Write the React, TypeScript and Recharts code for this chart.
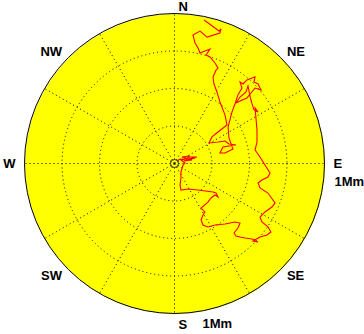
import { ScatterChart, Scatter, XAxis, YAxis, ReferenceDot, ReferenceLine } from 'recharts';

// track of the object, east / north offset from the site, in Mm
const eastMm = [
    0.197, 0.297, 0.31, 0.303, 0.217, 0.17, 0.123, 0.137, 0.157, 0.17,
    0.203, 0.237, 0.21, 0.237, 0.27, 0.29, 0.277, 0.257, 0.263, 0.283,
    0.303, 0.337, 0.35, 0.29, 0.25, 0.23, 0.29, 0.337, 0.363, 0.41,
    0.323, 0.303, 0.337, 0.39, 0.363, 0.357, 0.383, 0.403, 0.423, 0.45,
    0.437, 0.457, 0.483, 0.517, 0.537, 0.53, 0.557, 0.577, 0.537, 0.51,
    0.483, 0.437, 0.41, 0.437, 0.477, 0.49, 0.503, 0.517, 0.53, 0.557,
    0.537, 0.543, 0.55, 0.55, 0.537, 0.57, 0.603, 0.637, 0.623, 0.583,
    0.557, 0.57, 0.623, 0.67, 0.65, 0.603, 0.57, 0.583, 0.623, 0.643,
    0.617, 0.57, 0.523, 0.557, 0.517, 0.47, 0.437, 0.41, 0.397, 0.423,
    0.437, 0.403, 0.337, 0.27, 0.223, 0.19, 0.177, 0.19, 0.203, 0.177,
    0.223, 0.243, 0.27, 0.29, 0.277, 0.257, 0.157, 0.09, 0.043, 0.037,
    0.043, 0.043, 0.057, 0.07, 0.043, 0.103, 0.15, 0.09, 0.137, 0.063,
    0.117, 0.05, 0.097, 0.077, 0.037, 0.017,
];
const northMm = [
    0.957, 0.883, 0.897, 0.87, 0.843, 0.883, 0.857, 0.803, 0.77, 0.737,
    0.75, 0.763, 0.723, 0.71, 0.67, 0.637, 0.623, 0.577, 0.53, 0.477,
    0.41, 0.323, 0.257, 0.21, 0.177, 0.137, 0.143, 0.15, 0.13, 0.123,
    0.11, 0.07, 0.07, 0.097, 0.17, 0.243, 0.343, 0.397, 0.457, 0.503,
    0.543, 0.53, 0.557, 0.57, 0.577, 0.543, 0.53, 0.49, 0.503, 0.47,
    0.437, 0.417, 0.403, 0.443, 0.477, 0.517, 0.45, 0.397, 0.357, 0.343,
    0.37, 0.303, 0.223, 0.143, 0.09, 0.043, -0.01, -0.063, -0.09, -0.11,
    -0.13, -0.163, -0.197, -0.263, -0.29, -0.323, -0.357, -0.39, -0.423, -0.457,
    -0.477, -0.49, -0.517, -0.523, -0.503, -0.497, -0.49, -0.483, -0.463, -0.43,
    -0.397, -0.39, -0.403, -0.41, -0.423, -0.41, -0.377, -0.343, -0.323, -0.297,
    -0.257, -0.23, -0.21, -0.223, -0.197, -0.19, -0.177, -0.17, -0.177, -0.143,
    -0.097, -0.057, -0.01, 0.003, 0.023, 0.043, 0.043, 0.03, 0.037, 0.017,
    0.023, 0.043, 0.05, 0.023, 0.03, 0.017,
];

const compassLabels = ['N', 'NE', 'E', 'SE', 'S', 'SW', 'W', 'NW'];
const compassAngles = [0, 45, 90, 135, 180, 225, 270, 315];
const spokeAngles = [0, 30, 60, 90, 120, 150, 180, 210, 240, 270, 300, 330];
const ringLevels = [0.25, 0.5, 0.75];
const rangeText = '1Mm';

const WIDTH = 364;
const HEIGHT = 334;
const CX = 174.5;
const CY = 163.5;
const R = 150;
const LABEL_R = 1.06;
const FONT = '"Liberation Sans", Arial, sans-serif';

const track = eastMm.map((e, i) => ({ east: e, north: northMm[i] }));

const rad = (deg: number) => (deg * Math.PI) / 180;

const labelShape = (name: string, angle: number) => (props: { cx?: number; cy?: number }) => {
    const s = Math.sin(rad(angle));
    const onAxis = Math.abs(s) < 0.1;
    const anchor = onAxis || s > 0 ? 'start' : 'end';
    return (
        <text
            x={(props.cx ?? 0) + (onAxis ? 4 : 0)}
            y={(props.cy ?? 0) + (onAxis ? 2 : 0)}
            textAnchor={anchor}
            dominantBaseline="central"
            fontFamily={FONT}
            fontWeight="bold"
            fontSize={13}
            fill="#000"
        >
            {name}
        </text>
    );
};

const rangeShape = (dx: number, dy: number) => (props: { cx?: number; cy?: number }) => (
    <text
        x={(props.cx ?? 0) + dx}
        y={(props.cy ?? 0) + dy}
        dominantBaseline="central"
        fontFamily={FONT}
        fontWeight="bold"
        fontSize={13}
        fill="#000"
    >
        {rangeText}
    </text>
);

export default function App() {
    return (
        <div style={{ position: 'absolute', left: 0, top: 0, width: WIDTH, height: HEIGHT, background: '#fff' }}>
            {/* yellow face of the compass, sits behind the svg */}
            <div
                style={{
                    position: 'absolute',
                    left: CX - R,
                    top: CY - R,
                    width: 2 * R,
                    height: 2 * R,
                    borderRadius: '50%',
                    background: '#ffff00',
                }}
            />
            <div style={{ position: 'absolute', left: 0, top: 0 }}>
                <ScatterChart
                    width={WIDTH}
                    height={HEIGHT}
                    margin={{ top: CY - R, bottom: HEIGHT - CY - R, left: CX - R, right: WIDTH - CX - R }}
                >
                    <XAxis type="number" dataKey="east" domain={[-1, 1]} hide />
                    <YAxis type="number" dataKey="north" domain={[-1, 1]} hide />

                    {spokeAngles.map((a) => (
                        <ReferenceLine
                            key={'spoke' + a}
                            segment={[
                                { x: 0, y: 0 },
                                { x: Math.sin(rad(a)), y: Math.cos(rad(a)) },
                            ]}
                            stroke="#000"
                            strokeDasharray="1 3"
                            ifOverflow="visible"
                        />
                    ))}
                    <ReferenceDot x={0} y={0} r={R} fill="none" stroke="#000" strokeWidth={1} />
                    {ringLevels.map((lv) => (
                        <ReferenceDot
                            key={'ring' + lv}
                            x={0}
                            y={0}
                            r={lv * R}
                            fill="none"
                            stroke="#000"
                            strokeDasharray="1 3"
                        />
                    ))}

                    <Scatter
                        data={track}
                        line={{ stroke: '#ff0000', strokeWidth: 1.1 }}
                        shape={() => <g />}
                        isAnimationActive={false}
                    />

                    <ReferenceDot x={0} y={0} r={4} fill="none" stroke="#333" />

                    {compassLabels.map((name, i) => (
                        <ReferenceDot
                            key={name}
                            x={LABEL_R * Math.sin(rad(compassAngles[i]))}
                            y={LABEL_R * Math.cos(rad(compassAngles[i]))}
                            ifOverflow="visible"
                            shape={labelShape(name, compassAngles[i])}
                        />
                    ))}
                    <ReferenceDot x={LABEL_R} y={0} ifOverflow="visible" shape={rangeShape(1, 18)} />
                    <ReferenceDot x={0} y={-LABEL_R} ifOverflow="visible" shape={rangeShape(28, 1)} />
                </ScatterChart>
            </div>
        </div>
    );
}
